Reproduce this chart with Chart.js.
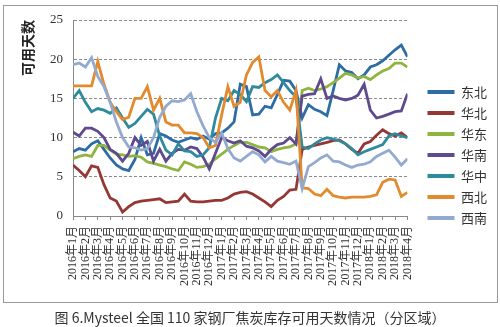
<!DOCTYPE html>
<html>
<head>
<meta charset="utf-8">
<script src="https://cdn.jsdelivr.net/npm/chart.js@4.4.1/dist/chart.umd.min.js"></script>
<style>
  body { margin: 0; background: #fff; }
  #wrap { position: relative; width: 500px; height: 327px; }
  #frame { position: absolute; left: 3px; top: 5px; width: 495px; height: 298px; box-sizing: border-box; border: 1px solid #9a9a9a; pointer-events: none; }
  #caption { position: absolute; left: 0; top: 307px; width: 500px; text-align: center; font: 14px "Noto Sans CJK SC", sans-serif; color: #333; }
</style>
</head>
<body>
<div id="wrap">
  <canvas id="myChart" width="500" height="327"></canvas>
  <div id="frame"></div>
  <div id="caption">图 6.Mysteel 全国 110 家钢厂焦炭库存可用天数情况（分区域）</div>
</div>
<script>
// month tick labels (one every 12 px on the axis)
var months = ['2016年1月','2016年2月','2016年3月','2016年4月','2016年5月','2016年6月','2016年7月',
  '2016年8月','2016年9月','2016年10月','2016年11月','2016年12月','2017年1月','2017年2月',
  '2017年3月','2017年4月','2017年5月','2017年6月','2017年7月','2017年8月','2017年9月',
  '2017年10月','2017年11月','2017年12月','2018年1月','2018年2月','2018年3月','2018年4月']

var regions = ['东北','华北','华东','华南','华中','西北','西南']
var colors = ['#2e6da4','#953735','#8fb440','#5e4a8e','#2f8a9e','#e38a2e','#93aad0']

// values, one every half month
var dongbei = [8.2, 8.6, 8.4, 9.2, 9.6, 8.5, 7.4, 6.5, 6.0, 5.8,
  7.2, 10.0, 7.8, 8.0, 10.5, 10.2, 9.7, 9.4, 9.7, 10.0,
  9.8, 10.2, 9.8, 10.5, 10.6, 11.2, 12.0, 16.8, 16.5, 12.9,
  13.0, 14.0, 13.8, 15.5, 17.3, 17.2, 16.0, 12.5, 14.2, 13.6,
  13.3, 12.8, 16.0, 19.3, 18.5, 18.3, 17.5, 18.0, 19.0, 19.3,
  19.8, 20.5, 21.2, 21.8, 20.3]
var huabei = [6.5, 5.8, 5.0, 6.4, 6.2, 4.0, 2.3, 1.9, 0.5, 1.2,
  1.7, 1.9, 2.0, 2.1, 2.2, 1.7, 1.8, 1.9, 2.8, 1.9,
  1.8, 1.8, 1.9, 2.0, 2.0, 2.3, 2.8, 3.0, 3.1, 2.8,
  2.3, 1.8, 1.2, 2.0, 2.5, 3.3, 3.4, 8.5, 8.8, 9.0,
  9.2, 9.4, 9.6, 9.7, 9.2, 8.5, 8.0, 9.2, 9.5, 10.3,
  11.0, 10.5, 10.2, 10.6, 10.0]
var huadong = [7.3, 7.6, 7.8, 7.6, 9.0, 9.0, 8.4, 7.9, 7.8, 7.6,
  7.7, 7.5, 6.9, 6.7, 6.5, 6.3, 6.0, 5.8, 6.9, 6.6,
  6.2, 6.3, 6.6, 7.3, 7.9, 8.5, 9.0, 9.4, 9.4, 9.1,
  8.8, 8.7, 8.2, 8.5, 8.7, 8.8, 9.2, 16.0, 16.3, 16.0,
  16.2, 16.5, 17.0, 17.6, 18.2, 18.0, 17.6, 17.8, 17.4, 18.0,
  18.5, 18.8, 19.5, 19.5, 19.0]
var huanan = [10.7, 10.2, 11.2, 11.2, 10.8, 10.0, 8.5, 8.0, 7.0, 8.0,
  10.0, 9.0, 9.5, 7.0, 8.5, 7.0, 8.0, 8.5, 8.4, 8.8,
  8.6, 7.5, 6.0, 8.0, 10.0, 9.6, 9.3, 9.6, 8.9, 8.7,
  8.3, 7.6, 8.5, 9.1, 9.3, 10.0, 9.2, 15.3, 15.5, 15.6,
  17.5, 15.0, 15.3, 15.0, 14.8, 15.0, 15.4, 16.8, 13.5, 12.5,
  12.7, 13.0, 13.3, 13.4, 15.6]
var huazhong = [15.0, 16.0, 14.5, 13.3, 13.7, 13.5, 13.1, 13.8, 12.5, 11.3,
  11.8, 12.7, 13.6, 13.0, 10.2, 8.4, 7.8, 9.2, 8.3, 8.2,
  7.6, 7.8, 8.7, 12.5, 15.0, 14.7, 16.0, 15.5, 14.6, 16.5,
  16.4, 17.0, 17.4, 18.0, 17.0, 16.0, 15.2, 8.8, 8.6, 9.2,
  9.7, 10.0, 9.8, 9.6, 9.2, 8.6, 7.8, 8.2, 8.5, 8.8,
  9.1, 10.2, 10.5, 10.2, 10.0]
var xibei = [16.6, 16.6, 16.6, 16.6, 19.7, 16.8, 14.5, 13.3, 12.3, 12.6,
  15.0, 15.0, 16.5, 13.5, 15.0, 12.0, 11.6, 11.6, 10.6, 10.6,
  10.5, 10.0, 8.7, 9.0, 12.9, 16.5, 14.0, 14.5, 18.0, 19.6,
  20.3, 16.0, 15.2, 16.0, 14.5, 13.5, 16.0, 3.6, 3.5, 2.8,
  2.6, 3.4, 2.6, 2.4, 2.3, 2.4, 2.4, 2.4, 2.5, 2.7,
  4.3, 4.7, 4.6, 2.5, 3.0]
var xinan = [19.3, 19.5, 19.0, 20.2, 17.8, 16.5, 14.5, 12.0, 10.0, 8.8,
  8.7, 8.4, 8.6, 10.0, 12.6, 14.0, 14.7, 14.6, 14.8, 15.6,
  13.3, 11.5, 10.0, 9.4, 10.6, 8.6, 7.4, 7.0, 7.6, 8.2,
  7.8, 6.9, 7.6, 7.0, 6.8, 6.6, 7.0, 3.5, 6.3, 6.8,
  7.4, 7.8, 7.0, 6.9, 6.5, 6.2, 6.5, 6.6, 6.9, 7.6,
  8.0, 8.4, 7.5, 6.5, 7.3]

var seriesValues = [dongbei, huabei, huadong, huanan, huazhong, xibei, xinan]
var step = 0.5 // samples per month -> x in month units

var yTicks = [0, 5, 10, 15, 20, 25]

var datasets = []
for (var i = 0; i < regions.length; i++) {
  datasets.push({
    label: regions[i],
    data: seriesValues[i].map(function (v, j) { return { x: j * step, y: v } }),
    borderColor: colors[i],
    backgroundColor: colors[i],
    borderWidth: 2.8,
    pointRadius: 0,
    tension: 0,
    order: regions.length - i // later series drawn on top, like the source
  })
}

// push the legend a bit further from the plot
var legendShift = {
  id: 'legendShift',
  afterLayout: function (chart) {
    chart.legend.left += 12
    chart.legend.right += 12
  }
}

var serif = "'Liberation Serif', 'Noto Sans CJK SC', serif"
var cjk = "'Noto Sans CJK SC', sans-serif"

var ctx = document.getElementById('myChart').getContext('2d')
var chart = new Chart(ctx, {
  type: 'line',
  data: { datasets: datasets },
  plugins: [legendShift],
  options: {
    responsive: false,
    animation: false,
    layout: { padding: { top: 20, right: 15, bottom: 37, left: 0 } },
    plugins: {
      tooltip: { enabled: false },
      legend: {
        position: 'right',
        labels: {
          boxWidth: 27,
          boxHeight: 4,
          padding: 8,
          color: '#333',
          font: { family: cjk, size: 13 },
          generateLabels: function (c) {
            var items = Chart.defaults.plugins.legend.labels.generateLabels(c)
            items.forEach(function (it) { it.lineWidth = 0 })
            return items.sort(function (a, b) { return a.datasetIndex - b.datasetIndex })
          }
        }
      }
    },
    scales: {
      x: {
        type: 'linear',
        min: 0,
        max: months.length - 1,
        afterFit: function (s) { s.height = 74 },
        grid: { drawOnChartArea: false, tickLength: 4, color: '#888' },
        border: { color: '#888', width: 1 },
        ticks: {
          stepSize: 1,
          maxTicksLimit: 40,
          autoSkip: false,
          minRotation: 90,
          maxRotation: 90,
          padding: 6,
          color: '#333',
          font: { family: serif, size: 12 },
          callback: function (v) { return months[v] }
        }
      },
      y: {
        min: 0,
        max: 25,
        afterFit: function (s) { s.width = 73 },
        afterBuildTicks: function (s) { s.ticks = yTicks.map(function (v) { return { value: v } }) },
        grid: { color: '#8a8a8a', drawTicks: false },
        border: { color: '#888', width: 1, dash: [3, 2] },
        ticks: {
          padding: 10,
          color: '#333',
          font: { family: serif, size: 13 }
        },
        title: {
          display: true,
          text: '可用天数',
          align: 'end',
          color: '#222',
          padding: { top: 19, bottom: 0 },
          font: { family: cjk, size: 14, weight: 'bold' }
        }
      }
    }
  }
})
</script>
</body>
</html>
